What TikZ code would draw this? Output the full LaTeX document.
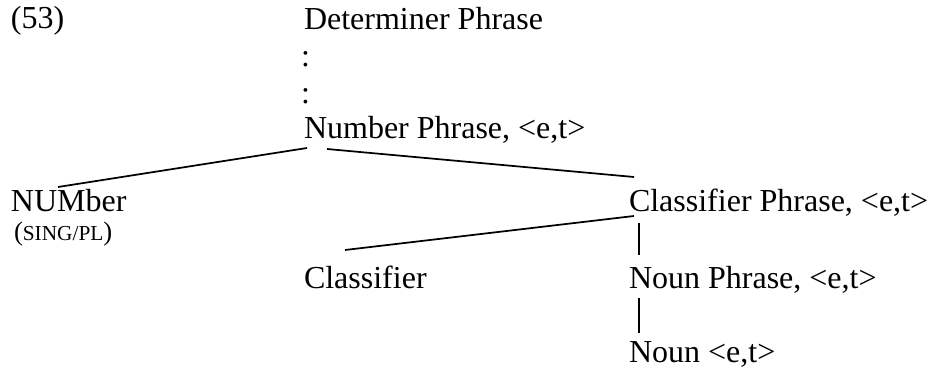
\documentclass[tikz,border=0pt]{standalone}
\usepackage{fontspec}
\setmainfont{Liberation Serif}
\usetikzlibrary{calc}
\begin{document}
\begin{tikzpicture}[x=0.75pt,y=-0.75pt,
  lbl/.style={anchor=base west,inner sep=0pt,outer sep=0pt,font=\fontsize{24}{28}\selectfont},
  branch/.style={line width=1.3pt},
  bar/.style={line width=0.9pt}]
\useasboundingbox (0,0) rectangle (929,374);
\node[lbl] (ex) at (11,29) {(53)};
\node[lbl] (dp) at (304,30) {Determiner Phrase};
\node[lbl] (c1) at (301,67) {:};
\node[lbl] (c2) at (301,104) {:};
\node[lbl] (np) at (304,139) {Number Phrase, <e,t>};
\node[lbl] (num) at (11,212) {NUMber};
\node[lbl,font=\fontsize{20}{24}\selectfont] (sg) at (14,241) {({\fontsize{16}{20}\selectfont SING/PL})};
\node[lbl] (cp) at (629,212) {Classifier Phrase, <e,t>};
\node[lbl] (cl) at (304,288) {Classifier};
\node[lbl] (nounp) at (629,288) {Noun Phrase, <e,t>};
\node[lbl] (noun) at (629,363) {Noun <e,t>};
\draw[branch] ($(np.base west)+(3,9)$) -- ($(num.base west)+(47,-25)$);
\draw[branch] ($(np.base west)+(23,10)$) -- ($(cp.base west)+(5,-35)$);
\draw[branch] ($(cp.base west)+(5,4)$) -- ($(cl.base west)+(41,-38)$);
\draw[bar] ($(cp.base west)+(10,11)$) -- ($(nounp.base west)+(10,-33)$);
\draw[bar] ($(nounp.base west)+(10,10)$) -- ($(noun.base west)+(10,-30)$);
\end{tikzpicture}
\end{document}
